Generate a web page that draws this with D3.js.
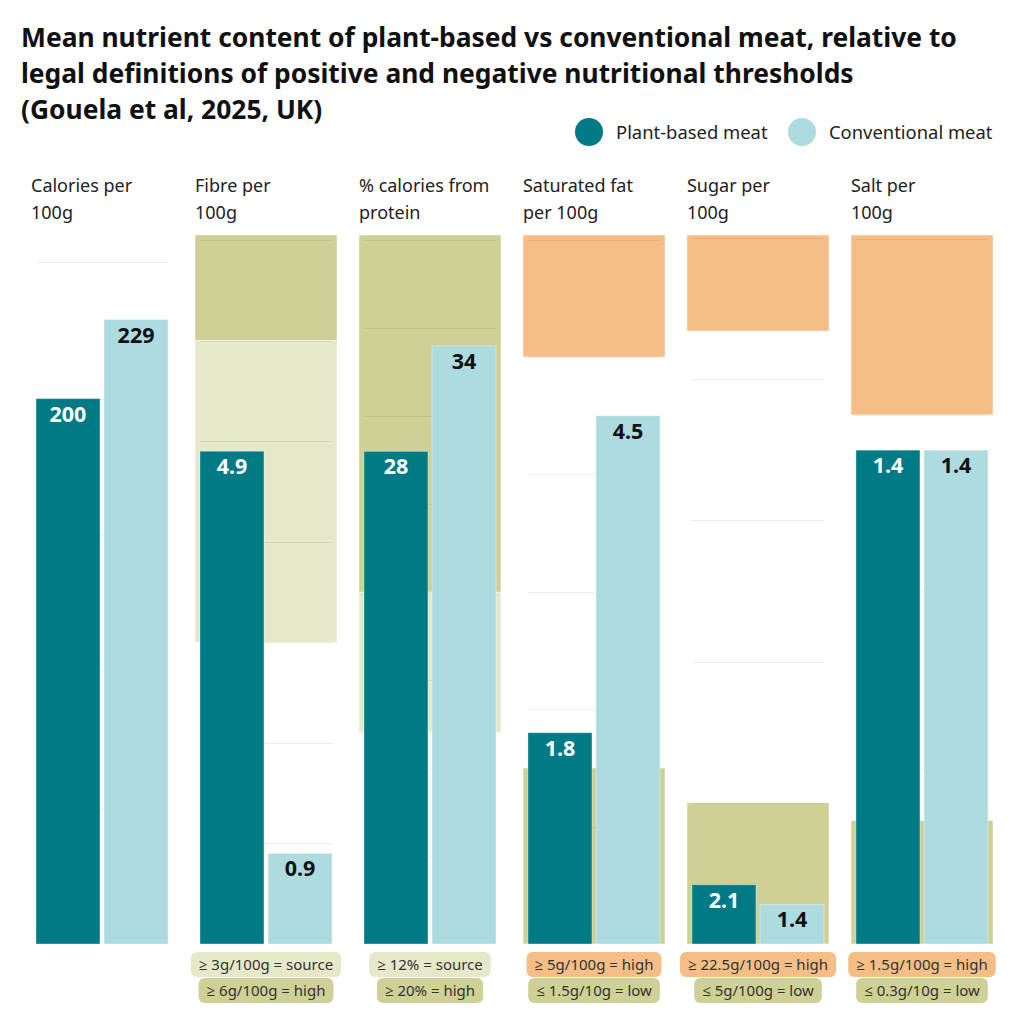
<!DOCTYPE html>
<html>
<head>
<meta charset="utf-8">
<script src="https://cdn.jsdelivr.net/npm/d3@7"></script>
<style>
  body { margin: 0; background: #fff; }
  svg { font-family: "Noto Sans", "Open Sans", sans-serif; }
</style>
</head>
<body>
<div id="chart"></div>
<script>

// chart data
const titleLines = [
    "Mean nutrient content of plant-based vs conventional meat, relative to",
    "legal definitions of positive and negative nutritional thresholds",
    "(Gouela et al, 2025, UK)"
]
const seriesNames = ["Plant-based meat", "Conventional meat"]
const nutrients = ["Calories", "Fibre", "Protein", "Saturated fat", "Sugar", "Salt"]
const headers = [
    ["Calories per", "100g"],
    ["Fibre per", "100g"],
    ["% calories from", "protein"],
    ["Saturated fat", "per 100g"],
    ["Sugar per", "100g"],
    ["Salt per", "100g"]
]
const plantValues = [200, 4.9, 28, 1.8, 2.1, 1.4]
const conventionalValues = [229, 0.9, 34, 4.5, 1.4, 1.4]
const valueLabels = [["200", "229"], ["4.9", "0.9"], ["28", "34"], ["1.8", "4.5"], ["2.1", "1.4"], ["1.4", "1.4"]]
const axisMax = [260, 7.05, 40.3, 6.04, 25.1, 2.01]
const gridStep = [50, 1, 5, 1, 5, 0.5]

// threshold bands [from, to, kind] (to = null -> top of panel)
const thresholdBands = [
    [],
    [[3, 6, "source"], [6, null, "high"]],
    [[12, 20, "source"], [20, null, "high"]],
    [[5, null, "bad"], [0, 1.5, "high"]],
    [[21.7, null, "bad"], [0, 5, "high"]],
    [[1.5, null, "bad"], [0, 0.35, "high"]]
]
const thresholdLabels = [
    [],
    [["≥ 3g/100g = source", "source"], ["≥ 6g/100g = high", "high"]],
    [["≥ 12% = source", "source"], ["≥ 20% = high", "high"]],
    [["≥ 5g/100g = high", "bad"], ["≤ 1.5g/10g = low", "high"]],
    [["≥ 22.5g/100g = high", "bad"], ["≤ 5g/100g = low", "high"]],
    [["≥ 1.5g/100g = high", "bad"], ["≤ 0.3g/10g = low", "high"]]
]

const colors = {
    plant: "#007b85",
    conventional: "#acdbe0",
    source: "#e6e8c9",
    high: "#cfd096",
    bad: "#f4be86"
}

const width = 1024
const height = 1024
const plotTop = 235
const plotBottom = 944

const svg = d3.select("#chart").append("svg")
    .attr("width", width)
    .attr("height", height)

// title
svg.append("g").selectAll("text")
    .data(titleLines)
    .join("text")
    .attr("x", 21)
    .attr("y", (d, i) => 47 + i * 36)
    .attr("font-size", 26.4)
    .attr("font-weight", 700)
    .attr("fill", "#111")
    .text(d => d)

// legend
const legendX = [589, 802]
const legend = svg.append("g")
seriesNames.forEach((name, i) => {
    legend.append("circle")
        .attr("cx", legendX[i]).attr("cy", 132).attr("r", 14)
        .attr("fill", i === 0 ? colors.plant : colors.conventional)
    legend.append("text")
        .attr("x", legendX[i] + 27).attr("y", 139)
        .attr("font-size", 18.4).attr("fill", "#222")
        .text(name)
})

// panel scale
const xPanel = d3.scaleBand()
    .domain(nutrients)
    .range([31, 993])
    .paddingInner(0.134)

const xBar = d3.scaleBand()
    .domain(seriesNames)
    .range([5, xPanel.bandwidth() - 5])
    .paddingInner(0.06)

nutrients.forEach((n, i) => {
    const g = svg.append("g")
        .attr("transform", "translate(" + xPanel(n) + ",0)")
    const y = d3.scaleLinear()
        .domain([0, axisMax[i]])
        .range([plotBottom, plotTop])

    // header
    g.append("text")
        .attr("font-size", 18)
        .attr("fill", "#222")
        .selectAll("tspan")
        .data(headers[i])
        .join("tspan")
        .attr("x", 0)
        .attr("y", (d, k) => 192 + k * 27)
        .text(d => d)

    // threshold bands
    g.selectAll("rect.band")
        .data(thresholdBands[i])
        .join("rect")
        .attr("class", "band")
        .attr("x", 0)
        .attr("width", xPanel.bandwidth())
        .attr("y", d => y(d[1] === null ? axisMax[i] : d[1]))
        .attr("height", d => y(d[0]) - y(d[1] === null ? axisMax[i] : d[1]))
        .attr("fill", d => colors[d[2]])
        .attr("stroke", "#fff")
        .attr("stroke-opacity", 0.5)

    // gridlines
    const ticks = d3.range(gridStep[i], axisMax[i], gridStep[i])
    g.selectAll("line.grid")
        .data(ticks)
        .join("line")
        .attr("class", "grid")
        .attr("x1", xBar.range()[0])
        .attr("x2", xBar.range()[1])
        .attr("y1", d => Math.round(y(d)) + 0.5)
        .attr("y2", d => Math.round(y(d)) + 0.5)
        .attr("stroke", "#000")
        .attr("stroke-opacity", 0.07)

    // bars
    const vals = [plantValues[i], conventionalValues[i]]
    g.selectAll("rect.bar")
        .data(vals)
        .join("rect")
        .attr("class", "bar")
        .attr("x", (d, k) => xBar(seriesNames[k]))
        .attr("width", xBar.bandwidth())
        .attr("y", d => y(d))
        .attr("height", d => y(0) - y(d))
        .attr("fill", (d, k) => k === 0 ? colors.plant : colors.conventional)
        .attr("stroke", "#fff")
        .attr("stroke-opacity", 0.35)

    g.selectAll("text.value")
        .data(vals)
        .join("text")
        .attr("class", "value")
        .attr("x", (d, k) => xBar(seriesNames[k]) + xBar.bandwidth() / 2)
        .attr("y", d => y(d) + 23)
        .attr("text-anchor", "middle")
        .attr("font-size", 21.5)
        .attr("font-weight", 700)
        .attr("fill", (d, k) => k === 0 ? "#fff" : "#111")
        .text((d, k) => valueLabels[i][k])

    // threshold pills under the panel
    thresholdLabels[i].forEach((lab, k) => {
        const pill = g.append("g")
        const t = pill.append("text")
            .attr("x", xPanel.bandwidth() / 2)
            .attr("y", 969.5 + k * 26)
            .attr("text-anchor", "middle")
            .attr("font-size", 15)
            .attr("fill", "#333")
            .text(lab[0])
        const w = t.node().getComputedTextLength() + 16
        pill.insert("rect", "text")
            .attr("x", xPanel.bandwidth() / 2 - w / 2)
            .attr("y", 952 + k * 26)
            .attr("width", w)
            .attr("height", 25)
            .attr("rx", 6)
            .attr("fill", colors[lab[1]])
    })
})
</script>
</body>
</html>
